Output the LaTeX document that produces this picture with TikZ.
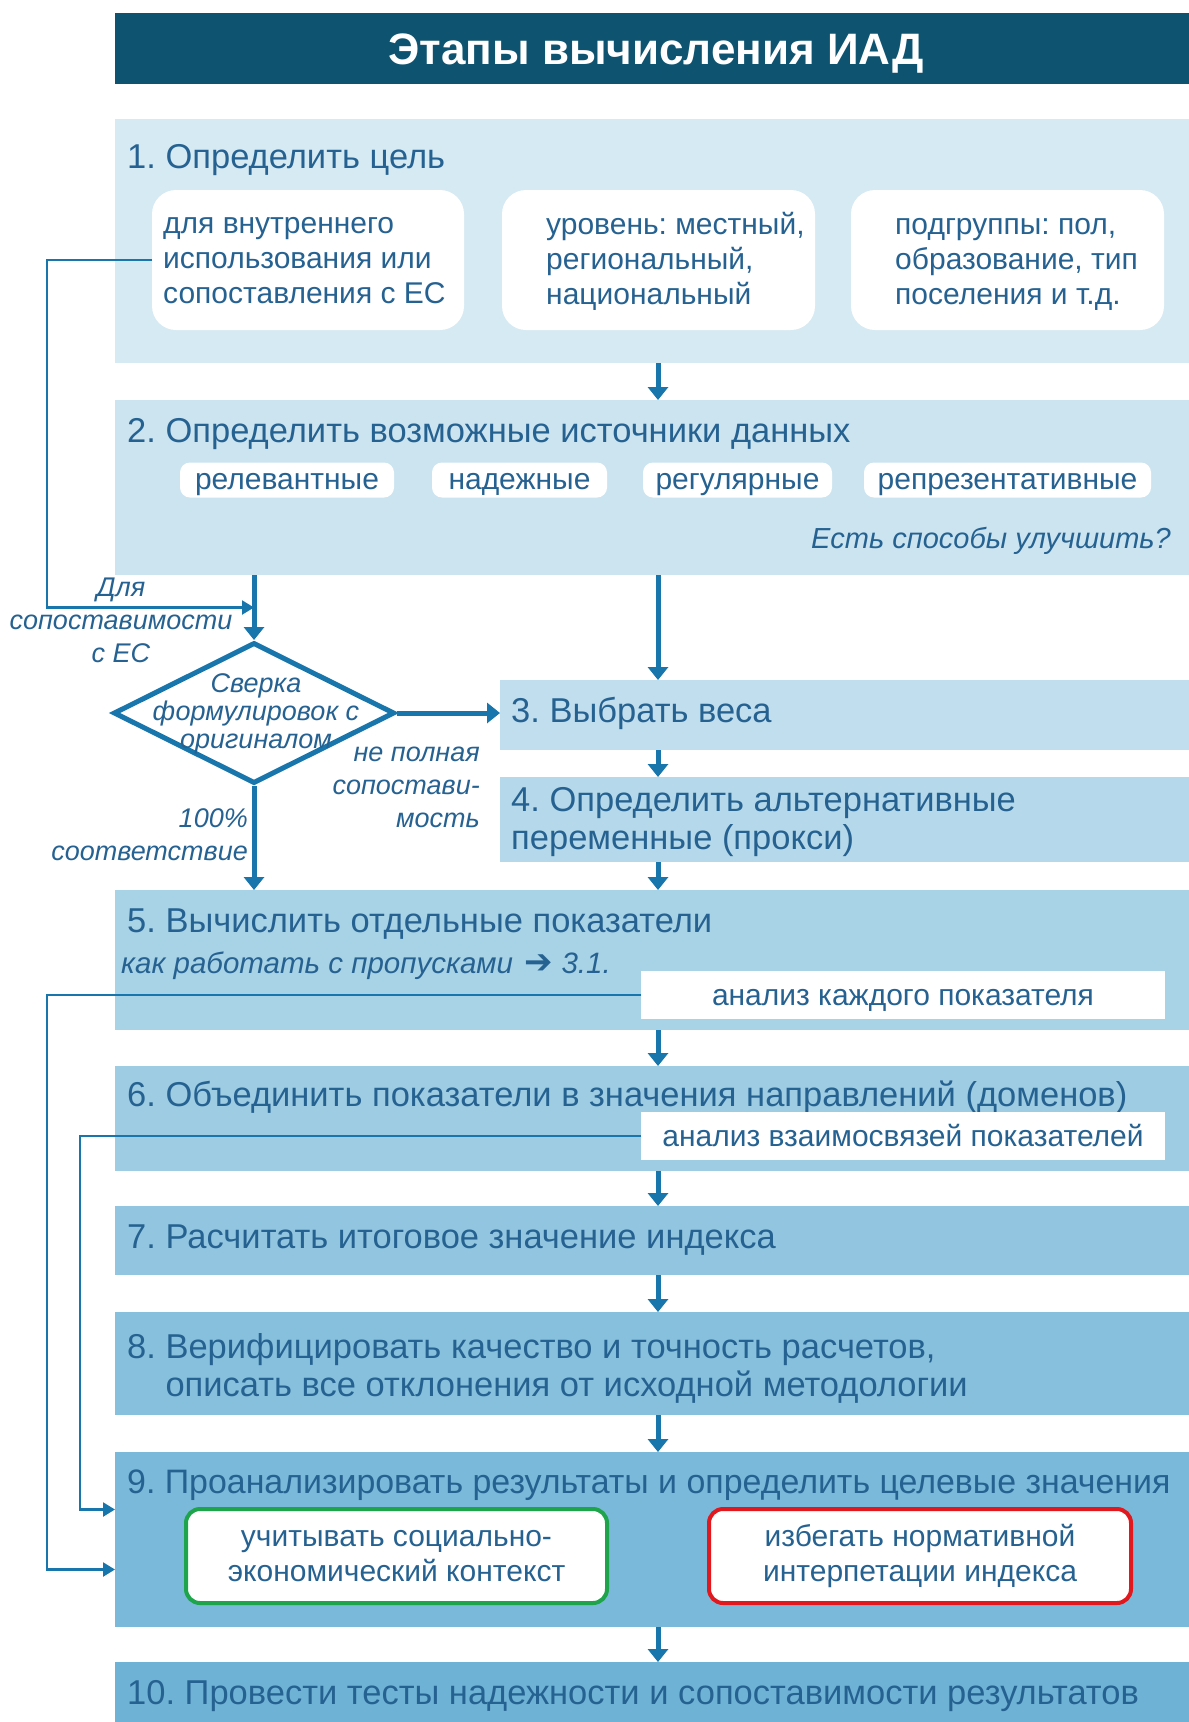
\documentclass[tikz,border=0pt]{standalone}
\usepackage{fontspec}
\setmainfont{Liberation Sans}
\newfontfamily\djv{DejaVu Sans}
\usetikzlibrary{shapes.geometric,arrows.meta,calc}
\definecolor{txt}{RGB}{38,98,145}
\definecolor{arr}{RGB}{24,118,172}
\definecolor{ttl}{RGB}{14,84,112}
\definecolor{grn}{RGB}{30,165,75}
\definecolor{red}{RGB}{225,25,30}
\definecolor{cA}{RGB}{214,234,243}
\definecolor{cB}{RGB}{203,228,240}
\definecolor{cC}{RGB}{192,222,237}
\definecolor{cD}{RGB}{181,217,234}
\definecolor{cE}{RGB}{168,210,230}
\definecolor{cF}{RGB}{157,204,227}
\definecolor{cG}{RGB}{146,198,224}
\definecolor{cH}{RGB}{135,192,221}
\definecolor{cI}{RGB}{122,185,217}
\definecolor{cJ}{RGB}{110,178,213}
\newcommand\setfs[2]{\fontsize{#1}{#2}\selectfont}
\frenchspacing
\tikzset{
  band/.style={rectangle, anchor=north west, inner sep=0pt, outer sep=0pt},
  steptxt/.style={anchor=mid west, text=txt, font=\setfs{34.5}{38}, inner sep=0pt},
  subtxt/.style={text=txt, font=\setfs{30}{35}, inner sep=0pt},
  note/.style={text=txt, font=\itshape\setfs{29}{33}, inner sep=0pt},
  lab/.style={text=txt, font=\itshape\setfs{27}{33}, inner sep=0pt},
  whitebox/.style={rectangle, fill=white, rounded corners=24pt, anchor=north west, inner sep=0pt, outer sep=0pt},
  pill/.style={rectangle, fill=white, rounded corners=10pt, text=txt, font=\setfs{30}{30}, minimum height=35pt, inner sep=0pt, text height=22pt, text depth=4pt},
  anbox/.style={band, fill=white, minimum width=524pt, minimum height=48pt, text=txt, font=\setfs{30}{30}, text height=23pt, text depth=3pt},
  mainarrow/.style={draw=arr, line width=5pt, -{Triangle[width=20pt,length=13pt]}},
  thinarrow/.style={draw=arr, line width=2.2pt, -{Triangle[width=14pt,length=12pt]}},
}
\begin{document}
\begin{tikzpicture}[x=1pt,y=-1pt]
\fill[white] (0,0) rectangle (1189,1722);
\useasboundingbox (0,0) rectangle (1189,1722);

% title
\node[band, fill=ttl, minimum width=1074pt, minimum height=71pt] (title) at (115,13) {};
\node[anchor=mid, inner sep=0pt, text=white, font=\bfseries\setfs{44}{44}] (titletxt) at (656,62) {Этапы вычисления ИАД};

% bands
\node[band, fill=cA, minimum width=1074pt, minimum height=244pt] (b1) at (115,119) {};
\node[band, fill=cB, minimum width=1074pt, minimum height=175pt] (b2) at (115,400) {};
\node[band, fill=cC, minimum width=689pt, minimum height=70pt] (b3) at (500,680) {};
\node[band, fill=cD, minimum width=689pt, minimum height=85pt] (b4) at (500,777) {};
\node[band, fill=cE, minimum width=1074pt, minimum height=140pt] (b5) at (115,890) {};
\node[band, fill=cF, minimum width=1074pt, minimum height=105pt] (b6) at (115,1066) {};
\node[band, fill=cG, minimum width=1074pt, minimum height=69pt] (b7) at (115,1206) {};
\node[band, fill=cH, minimum width=1074pt, minimum height=103pt] (b8) at (115,1312) {};
\node[band, fill=cI, minimum width=1074pt, minimum height=175pt] (b9) at (115,1452) {};
\node[band, fill=cJ, minimum width=1074pt, minimum height=60pt] (b10) at (115,1662) {};

% step texts
\node[steptxt] (t1) at (127,166) {1. Определить цель};
\node[steptxt] (t2) at (127,440) {2. Определить возможные источники данных};
\node[steptxt] (t3) at (511,720) {3. Выбрать веса};
\node[steptxt, anchor=west, align=left] (t4) at (511,822) {4. Определить альтернативные\\переменные (прокси)};
\node[steptxt] (t5) at (127,930) {5. Вычислить отдельные показатели};
\node[steptxt] (t6) at (127,1104) {6. Объединить показатели в значения направлений (доменов)};
\node[steptxt] (t7) at (127,1246) {7. Расчитать итоговое значение индекса};
\node[steptxt, anchor=west, align=left] (t8) at (127,1368) {8. Верифицировать качество и точность расчетов,\\\hphantom{8.\ }описать все отклонения от исходной методологии};
\node[steptxt, font=\setfs{33.9}{38}] (t9) at (127,1491) {9. Проанализировать результаты и определить целевые значения};
\node[steptxt] (t10) at (127,1702) {10. Провести тесты надежности и сопоставимости результатов};

% box 1 inner boxes
\node[whitebox, minimum width=312pt, minimum height=140pt] (w1) at (152,190) {};
\node[whitebox, minimum width=313pt, minimum height=140pt] (w2) at (502,190) {};
\node[whitebox, minimum width=313pt, minimum height=140pt] (w3) at (851,190) {};
\node[subtxt, anchor=west, align=left] (w1t) at (163,261) {для внутреннего\\использования или\\сопоставления с ЕС};
\node[subtxt, anchor=west, align=left] (w2t) at (546,261) {уровень: местный,\\региональный,\\национальный};
\node[subtxt, anchor=west, align=left] (w3t) at (895,264) {подгруппы: пол,\\образование, тип\\поселения и т.д.};

% box 2 pills
\node[pill, minimum width=214pt] (p1) at (287,480) {релевантные};
\node[pill, minimum width=175pt] (p2) at (519.5,480) {надежные};
\node[pill, minimum width=189pt] (p3) at (737.5,480) {регулярные};
\node[pill, minimum width=287pt] (p4) at (1007.5,480) {репрезентативные};
\node[note, anchor=mid east] (imp) at (1171,546) {Есть способы улучшить?};

% diamond
\node[draw=arr, line width=5pt, diamond, minimum width=281pt, minimum height=141pt, inner sep=0pt] (dia) at (254,713) {};
\node[lab, align=center, font=\itshape\setfs{27}{28}] (diat) at (256,714) {Сверка\\формулировок с\\оригиналом};
\node[lab, align=center] (lab1) at (121,620) {Для\\сопоставимости\\с ЕС};
\node[lab, align=right, anchor=east] (lab2) at (480,787) {не полная\\сопостави-\\мость};
\node[lab, align=right, anchor=east] (lab3) at (248,835) {100\%\\соответствие};

% box 5 / 6 extras
\node[note, anchor=mid west, font=\itshape\setfs{29.5}{33}] (miss) at (121,971) {как работать с пропусками\hspace{11pt}{\upshape\djv\setfs{34}{34}➔}\hspace{9pt}3.1.};
\node[anbox] (a5) at (641,971) {анализ каждого показателя};
\node[anbox] (a6) at (641,1112) {анализ взаимосвязей показателей};

% box 9 extras
\node[draw=grn, line width=4pt, fill=white, rounded corners=14pt, minimum width=421pt, minimum height=94pt, align=center, text=txt, font=\setfs{30}{35}, inner sep=0pt] (g9) at (396.5,1556) {учитывать социально-\\экономический контекст};
\node[draw=red, line width=4pt, fill=white, rounded corners=14pt, minimum width=422pt, minimum height=94pt, align=center, text=txt, font=\setfs{30}{35}, inner sep=0pt] (r9) at (920,1556) {избегать нормативной\\интерпетации индекса};

% connectors
\coordinate (ax) at (658,0);
\coordinate (lx1) at (47,0);
\coordinate (lx2) at (80,0);
\draw[mainarrow] (b1.south -| ax) -- (b2.north -| ax);
\draw[mainarrow] (b2.south -| ax) -- (b3.north -| ax);
\draw[mainarrow] (b3.south -| ax) -- (b4.north -| ax);
\draw[mainarrow] (b4.south -| ax) -- (b5.north -| ax);
\draw[mainarrow] (b5.south -| ax) -- (b6.north -| ax);
\draw[mainarrow] (b6.south -| ax) -- (b7.north -| ax);
\draw[mainarrow] (b7.south -| ax) -- (b8.north -| ax);
\draw[mainarrow] (b8.south -| ax) -- (b9.north -| ax);
\draw[mainarrow] (b9.south -| ax) -- (b10.north -| ax);
\draw[mainarrow] (b2.south -| dia.north) -- (dia.north);
\draw[mainarrow] (dia.east) -- (dia.east -| b3.west);
\draw[mainarrow] (dia.south) -- (dia.south |- b5.north);
\coordinate (jn) at ($(b2.south -| dia.north)!0.5!(dia.north)$);
\draw[thinarrow] (w1.west) -- (w1.west -| lx1) |- (jn);
\draw[thinarrow] (a5.west) -- (a5.west -| lx1) |- ($(b9.west)+(0,30)$);
\draw[thinarrow] (a6.west) -- (a6.west -| lx2) |- ($(b9.west)+(0,-30)$);
\end{tikzpicture}
\end{document}
